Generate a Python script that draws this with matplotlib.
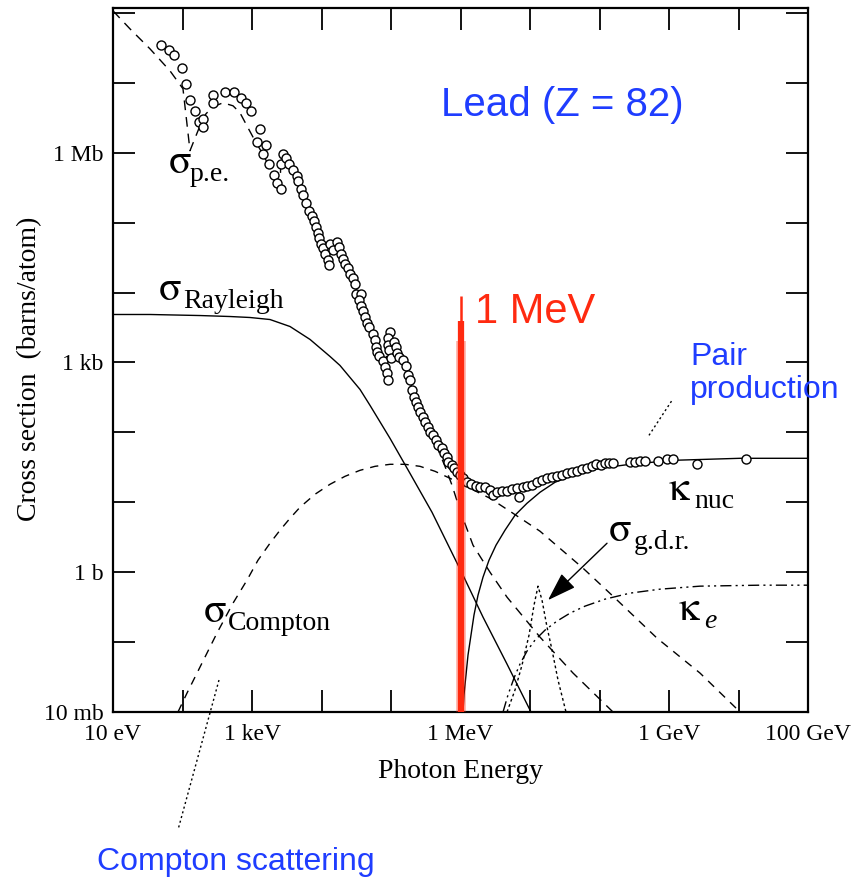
import numpy as np
import matplotlib.pyplot as plt

plt.rcParams['font.family'] = 'Liberation Serif'
plt.rcParams['mathtext.fontset'] = 'stix'

# measured total cross section, lead (log10 E/eV, log10 sigma/barn)
data_log_e = [1.691, 1.806, 1.878, 1.993, 2.050, 2.108, 2.180, 2.237, 2.295, 2.295,
              2.439, 2.439, 2.612, 2.741, 2.842, 2.914, 2.986, 3.115, 3.072, 3.201,
              3.158, 3.245, 3.317, 3.360, 3.417, 3.446, 3.417, 3.489, 3.532, 3.590,
              3.647, 3.662, 3.705, 3.734, 3.777, 3.820, 3.863, 3.892, 3.921, 3.950,
              3.964, 3.993, 4.022, 4.050, 4.094, 4.108, 4.122, 4.165, 4.223, 4.252,
              4.281, 4.309, 4.338, 4.381, 4.410, 4.453, 4.482, 4.496, 4.568, 4.540,
              4.568, 4.597, 4.626, 4.655, 4.683, 4.741, 4.770, 4.784, 4.799, 4.827,
              4.885, 4.914, 4.942, 4.957, 4.986, 4.957, 4.957, 4.971, 5.000, 5.043,
              5.072, 5.086, 5.115, 5.173, 5.216, 5.245, 5.273, 5.302, 5.331, 5.360,
              5.388, 5.417, 5.460, 5.489, 5.532, 5.561, 5.604, 5.647, 5.676, 5.734,
              5.763, 5.806, 5.820, 5.878, 5.906, 5.950, 5.993, 6.036, 6.094, 6.151,
              6.223, 6.281, 6.353, 6.424, 6.468, 6.525, 6.597, 6.669, 6.741, 6.813,
              6.842, 6.899, 6.957, 7.029, 7.101, 7.173, 7.245, 7.317, 7.388, 7.460,
              7.532, 7.604, 7.676, 7.748, 7.820, 7.892, 7.950, 8.022, 8.079, 8.137,
              8.194, 8.439, 8.511, 8.583, 8.655, 8.842, 8.971, 9.058, 9.403, 10.108]
data_log_sigma = [7.543, 7.471, 7.400, 7.214, 6.986, 6.757, 6.600, 6.443, 6.486, 6.371,
                  6.829, 6.714, 6.871, 6.871, 6.786, 6.714, 6.600, 6.343, 6.157, 6.114,
                  5.986, 5.843, 5.686, 5.571, 5.486, 5.986, 5.843, 5.929, 5.843, 5.757,
                  5.671, 5.600, 5.486, 5.400, 5.286, 5.171, 5.100, 5.029, 4.943, 4.857,
                  4.786, 4.700, 4.643, 4.557, 4.471, 4.400, 4.700, 4.614, 4.729, 4.657,
                  4.557, 4.486, 4.414, 4.357, 4.271, 4.214, 4.129, 3.986, 3.986, 3.900,
                  3.814, 3.729, 3.657, 3.571, 3.500, 3.414, 3.314, 3.214, 3.143, 3.086,
                  3.014, 2.929, 2.843, 2.743, 3.429, 3.343, 3.243, 3.171, 3.057, 3.286,
                  3.214, 3.129, 3.071, 3.029, 2.943, 2.814, 2.743, 2.600, 2.500, 2.429,
                  2.357, 2.286, 2.214, 2.143, 2.071, 2.000, 1.957, 1.886, 1.814, 1.771,
                  1.700, 1.643, 1.571, 1.529, 1.486, 1.429, 1.386, 1.343, 1.286, 1.257,
                  1.229, 1.214, 1.214, 1.171, 1.100, 1.143, 1.157, 1.157, 1.186, 1.200,
                  1.071, 1.214, 1.229, 1.243, 1.286, 1.314, 1.343, 1.357, 1.371, 1.386,
                  1.414, 1.429, 1.443, 1.471, 1.486, 1.514, 1.543, 1.529, 1.557, 1.557,
                  1.557, 1.571, 1.571, 1.586, 1.586, 1.586, 1.614, 1.614, 1.543, 1.614]

# photoelectric
pe_log_e = [1.000, 1.245, 1.532, 1.820, 2.007, 2.108, 2.165, 2.252, 2.338, 2.439,
            2.583, 2.727, 2.827, 2.942, 3.043, 3.144, 3.259, 3.403, 3.417, 3.547,
            3.691, 3.835, 3.978, 4.094, 4.122, 4.223, 4.338, 4.482, 4.626, 4.770,
            4.928, 4.942, 5.058, 5.201, 5.345, 5.489, 5.633, 5.777, 5.878, 5.993,
            6.180, 6.424, 6.669, 7.144, 7.619, 8.194]
pe_log_sigma = [8.029, 7.771, 7.486, 7.171, 6.914, 6.029, 6.171, 6.386, 6.557, 6.657,
                6.714, 6.671, 6.571, 6.357, 6.171, 6.000, 5.786, 5.486, 5.957, 5.814,
                5.514, 5.143, 4.743, 4.429, 4.671, 4.700, 4.429, 4.100, 3.671, 3.286,
                2.886, 3.386, 3.214, 2.957, 2.500, 2.171, 1.857, 1.514, 1.243, 0.886,
                0.386, 0.000, -0.357, -0.929, -1.443, -2.000]

# incoherent (Compton)
compton_log_e = [1.935, 2.065, 2.252, 2.496, 2.727, 2.928, 3.086, 3.259, 3.403, 3.547,
                 3.691, 3.906, 4.122, 4.338, 4.554, 4.770, 4.986, 5.201, 5.417, 5.633,
                 5.849, 6.137, 6.424, 6.712, 7.144, 7.763, 8.194, 8.827, 9.446, 10.022]
compton_log_sigma = [-2.000, -1.729, -1.357, -0.871, -0.443, -0.114, 0.171, 0.414, 0.600, 0.771,
                     0.929, 1.114, 1.257, 1.371, 1.457, 1.514, 1.543, 1.543, 1.514, 1.443,
                     1.343, 1.200, 1.057, 0.871, 0.586, 0.057, -0.343, -0.943, -1.443, -2.000]

# coherent (Rayleigh)
rayleigh_log_e = [1.000, 1.532, 2.252, 2.683, 2.971, 3.259, 3.547, 3.835, 4.122, 4.266,
                  4.554, 4.698, 4.986, 5.273, 5.590, 6.036, 6.324, 6.669, 7.014]
rayleigh_log_sigma = [3.686, 3.686, 3.671, 3.657, 3.643, 3.614, 3.514, 3.329, 3.086, 2.957,
                      2.614, 2.386, 1.914, 1.414, 0.857, -0.043, -0.643, -1.314, -2.000]

# pair production, nuclear field
knuc_log_e = [6.036, 6.050, 6.079, 6.108, 6.151, 6.194, 6.252, 6.324, 6.410, 6.511,
              6.640, 6.784, 6.957, 7.144, 7.360, 7.647, 8.007, 8.439, 9.058, 10.022, 11.000]
knuc_log_sigma = [-2.000, -1.757, -1.471, -1.186, -0.900, -0.614, -0.329, -0.071, 0.171, 0.386,
                  0.600, 0.814, 0.986, 1.143, 1.286, 1.400, 1.486, 1.543, 1.600, 1.629, 1.629]

# pair production, electron field
ke_log_e = [6.612, 6.683, 6.770, 6.856, 6.957, 7.072, 7.216, 7.388, 7.576, 7.791,
            8.079, 8.439, 8.871, 9.446, 10.309, 11.000]
ke_log_sigma = [-2.000, -1.757, -1.514, -1.314, -1.129, -0.971, -0.829, -0.700, -0.586, -0.486,
                -0.386, -0.300, -0.243, -0.200, -0.186, -0.186]

# giant dipole resonance
gdr_log_e = [6.669, 6.784, 6.885, 6.986, 7.058, 7.115, 7.173, 7.245, 7.317, 7.403, 7.518]
gdr_log_sigma = [-2.000, -1.686, -1.329, -0.900, -0.471, -0.200, -0.400, -0.786, -1.114, -1.543, -2.000]

x_ticks = [1e1, 1e2, 1e3, 1e4, 1e5, 1e6, 1e7, 1e8, 1e9, 1e10, 1e11]
x_labels = ['10 eV', '', '1 keV', '', '', '1 MeV', '', '', '1 GeV', '', '100 GeV']
y_ticks = [1e-2, 1e-1, 1e0, 1e1, 1e2, 1e3, 1e4, 1e5, 1e6, 1e7, 1e8]
y_labels = ['10 mb', '', '1 b', '', '', '1 kb', '', '', '1 Mb', '', '']

mev = 1e6
mev_top = 10**3.95

W, H = 859, 881
fig = plt.figure(figsize=(W / 100, H / 100), dpi=100)
ax = fig.add_axes([113 / W, 1 - 712 / H, 695 / W, 704 / H])
ax.set_xscale('log')
ax.set_yscale('log')

p = lambda a: 10 ** np.asarray(a)

ax.plot(p(pe_log_e), p(pe_log_sigma), color='k', lw=1.0, ls=(0, (7, 5)))
ax.plot(p(compton_log_e), p(compton_log_sigma), color='k', lw=1.0, ls=(0, (6, 5)))
ax.plot(p(rayleigh_log_e), p(rayleigh_log_sigma), color='k', lw=1.0)
ax.plot(p(knuc_log_e), p(knuc_log_sigma), color='k', lw=1.0)
ax.plot(p(ke_log_e), p(ke_log_sigma), color='k', lw=1.0, ls=(0, (8, 3, 1.5, 3, 1.5, 3)))
ax.plot(p(gdr_log_e), p(gdr_log_sigma), color='k', lw=1.0, ls=(0, (2, 2)))

ax.plot(p(data_log_e), p(data_log_sigma), 'o', ms=6.5, mfc='white', mec='k', mew=1.0, zorder=4)

# the 1 MeV marker stroke
red = '#ff2a10'
ax.plot([mev, mev], [1e-2, 10**3.3], color=red, lw=7, alpha=0.35,
        solid_capstyle='butt', zorder=5)
ax.plot([mev, mev], [1e-2, 10**3.6], color=red, lw=4.5, solid_capstyle='butt', zorder=5)
ax.plot([mev, mev], [1e-2, mev_top], color=red, lw=1.8, solid_capstyle='butt', zorder=5)

# pointer lines to the blue captions
ax.plot([10**8.712, 10**9.043], [10**1.957, 10**2.457], color='k', lw=1.0, ls=(0, (1.5, 2)))
ax.plot([10**2.525, 10**1.935], [10**-1.543, 10**-3.686], color='k', lw=1.0,
        ls=(0, (1.5, 2)), clip_on=False)

ax.annotate('', xy=(10**7.259, 10**-0.40), xytext=(10**8.108, 10**0.414),
            arrowprops=dict(arrowstyle='-|>,head_length=0.9,head_width=0.3',
                            color='k', lw=1.0, mutation_scale=20, shrinkA=0, shrinkB=0))

ax.set_xlim(1e1, 1e11)
ax.set_ylim(1e-2, 10**8.07)
ax.set_xticks(x_ticks)
ax.set_xticklabels(x_labels)
ax.set_yticks(y_ticks)
ax.set_yticklabels(y_labels)
ax.minorticks_off()
ax.tick_params(which='major', direction='in', length=16, width=1.3,
               top=True, right=True, labelsize=17, pad=9)
ax.tick_params(axis='y', pad=7)
for s in ax.spines.values():
    s.set_linewidth(1.6)

fx = lambda x: x / W
fy = lambda y: 1 - y / H

fig.text(fx(461), fy(772), 'Photon Energy', fontsize=20, ha='center', va='center')
fig.text(fx(30), fy(369), 'Cross section  (barns/atom)', fontsize=20,
         ha='center', va='center', rotation=90)

greek_kw = dict(family='STIXGeneral', fontsize=30, ha='left', va='baseline')
sub_kw = dict(fontsize=20, ha='left', va='baseline')
fig.text(fx(169), fy(173), 'σ', **greek_kw)
fig.text(fx(190), fy(181), 'p.e.', **sub_kw)
fig.text(fx(159), fy(300), 'σ', **greek_kw)
fig.text(fx(183), fy(308), 'Rayleigh', **sub_kw)
fig.text(fx(204), fy(622), 'σ', **greek_kw)
fig.text(fx(228), fy(630), 'Compton', **sub_kw)
fig.text(fx(609), fy(541), 'σ', **greek_kw)
fig.text(fx(634), fy(549), 'g.d.r.', **sub_kw)
fig.text(fx(669), fy(500), 'κ', **greek_kw)
fig.text(fx(694), fy(508), 'nuc', **sub_kw)
fig.text(fx(679), fy(620), 'κ', **greek_kw)
fig.text(fx(704), fy(628), 'e', style='italic', **sub_kw)

blue = '#1f3dff'
fig.text(fx(562), fy(105), 'Lead (Z = 82)', family='Liberation Sans', fontsize=29,
         color=blue, ha='center', va='center')
fig.text(fx(475), fy(312), '1 MeV', family='Liberation Sans', fontsize=30,
         color=red, ha='left', va='center')
fig.text(fx(690), fy(357), 'Pair', family='Liberation Sans', fontsize=23,
         color=blue, ha='left', va='center')
fig.text(fx(690), fy(390), 'production', family='Liberation Sans', fontsize=23,
         color=blue, ha='left', va='center')
fig.text(fx(97), fy(862), 'Compton scattering', family='Liberation Sans', fontsize=23,
         color=blue, ha='left', va='center')

fig.savefig('out.png', dpi=100)
